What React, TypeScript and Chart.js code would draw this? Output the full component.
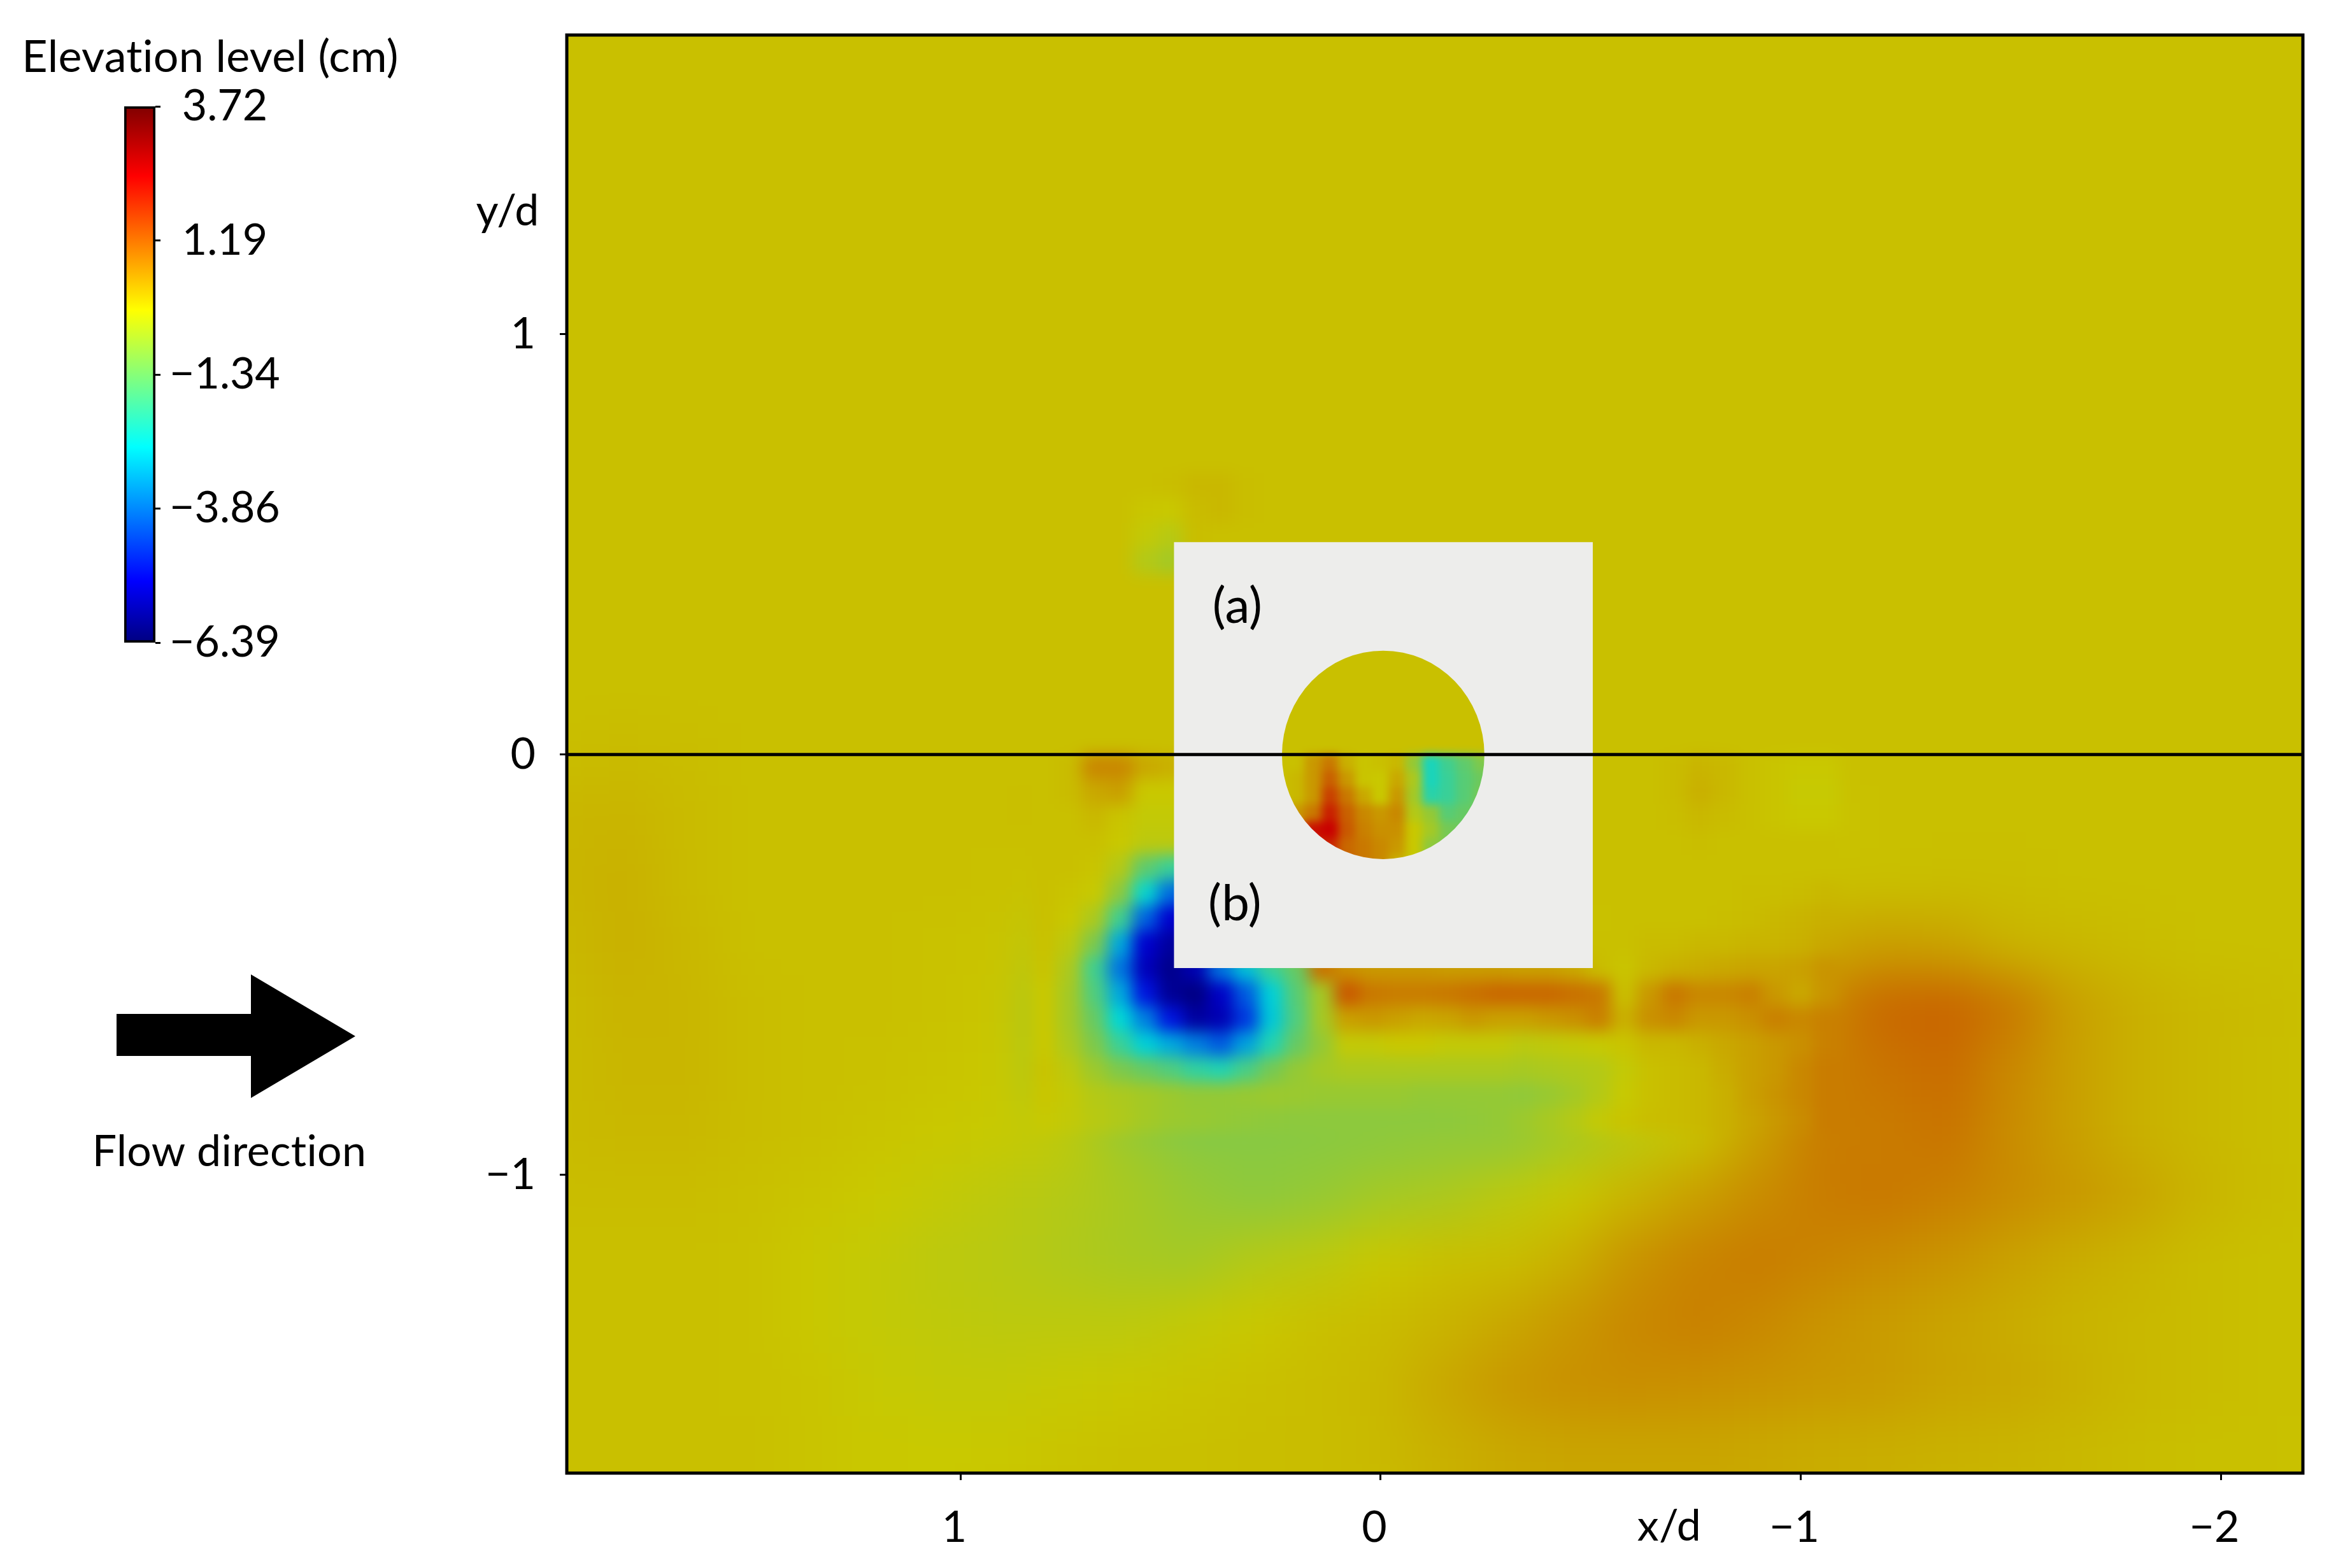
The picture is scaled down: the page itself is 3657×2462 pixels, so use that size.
import React, { useEffect, useRef } from "react";
import { Chart, registerables } from "chart.js";

Chart.register(...registerables);

const FONT = "Lato";
const FS = 68;

// ---- data ---------------------------------------------------------------
const xTicks = [1, 0, -1, -2];
const yTicks = [1, 0, -1];
const barTicks = [3.72, 1.19, -1.34, -3.86, -6.39];
const barRange = [-6.39, 3.72];
const insetSquare = { xHi: 0.492, xLo: -0.505, yHi: 0.505, yLo: -0.508 };
const insetCircle = { x: -0.006, y: -0.001, rx: 0.241, ry: 0.248 };

const coarseX = [1.95, 1.8, 1.65, 1.5, 1.35, 1.2, 1.05, 0.9, 0.75, 0.6, 0.45, 0.3, 0.15, 0, -0.15, -0.3, -0.45, -0.6, -0.75, -0.9, -1.05, -1.2, -1.35, -1.5, -1.65, -1.8, -1.95, -2.1, -2.25];
const coarseY = [1.8, 1.65, 1.5, 1.35, 1.2, 1.05, 0.9, 0.75, 0.6, 0.45, 0.3, 0.15, 0, -0.15, -0.3, -0.45, -0.6, -0.75, -0.9, -1.05, -1.2, -1.35, -1.5, -1.65, -1.8];
const coarseRows = [
  [0,0,0,0,0,0,0,0,0,0,0,0,0,0,0,0,0,0,0,0,0,0,0,0,0,0,0,0,0],
  [0,0,0,0,0,0,0,0,0,0,0,0,0,0,0,0,0,0,0,0,0,0,0,0,0,0,0,0,0],
  [0,0,0,0,0,0,0,0,0,0,0,0,0,0,0,0,0,0,0,0,0,0,0,0,0,0,0,0,0],
  [0,0,0,0,0,0,0,0,0,0,0,0,0,0,0,0,0,0,0,0,0,0,0,0,0,0,0,0,0],
  [0,0,0,0,0,0,0,0,0,0,0,0,0,0,0,0,0,0,0,0,0,0,0,0,0,0,0,0,0],
  [0,0,0,0,0,0,0,0,0,0,0,0,0,0,0,0,0,0,0,0,0,0,0,0,0,0,0,0,0],
  [0,0,0,0,0,0,0,0,0,0,0,0,0,0,0,0,0,0,0,0,0,0,0,0,0,0,0,0,0],
  [0,0,0,0,0,0,0,0,0,0,0,0,0,0,0,0,0,0,0,0,0,0,0,0,0,0,0,0,0],
  [0,0,0,0,0,0,0,0,0,0,0,0,0,0,0,0,0,0,0,0,0,0,0,0,0,0,0,0,0],
  [0,0,0,0,0,0,0,0,0,0,0,0,0,0,0,0,0,0,0,0,0,0,0,0,0,0,0,0,0],
  [0,0,0,0,0,0,0,0,0,0,0,0,0,0,0,0,0,0,0,0,0,0,0,0,0,0,0,0,0],
  [0,0,0,0,0,0,0,0,0,0,0,0,0,0,0,0,0,0,0,0,0,0,0,0,0,0,0,0,0],
  [0.03,0.06,0.03,0,0,0,0,0,0,0,0,0,0,0,0,0,0,0,0,0,0,0,0,0,0,0,0,0,0],
  [0.12,0.15,0.06,0,0,0,0,0,0.05,0.1,0,0,0,0,0,0,0,0,0.1,0,-0.05,0,0,0,0,0,0,0,0],
  [0.12,0.18,0.06,0,0,0,0,-0.02,-0.05,-0.3,-0.4,0,0,0,0,0,0,0,0.05,0,0,0,0.02,0.02,0,0,0,0,0],
  [0.1,0.18,0.1,0,0,0,-0.03,-0.05,-0.4,-3,-4.5,0,0,0,0,0,0,0.1,0.15,0.3,0.3,0.4,0.35,0.15,0.1,0.05,0,0,0],
  [0.06,0.15,0.12,0.03,0,0,-0.03,-0.08,-0.8,-4.2,-5.5,-3.3,-0.8,0.6,0.7,0.7,0.8,0.9,0.8,0.8,0.7,1.1,1.15,0.9,0.4,0.2,0.1,0.05,0],
  [0.06,0.12,0.12,0.03,0,-0.02,-0.05,-0.1,-0.7,-2.5,-2.9,-2,-1,-0.4,-0.2,-0.3,-0.2,-0.1,0,0.4,0.8,0.95,1.05,0.7,0.4,0.2,0.1,0.03,0],
  [0.06,0.1,0.1,0.03,0,-0.05,-0.1,-0.15,-0.25,-0.7,-0.95,-0.95,-0.95,-0.95,-0.9,-0.9,-0.6,-0.3,-0.05,0.4,0.85,0.85,0.95,0.65,0.4,0.2,0.1,0.03,0],
  [0.03,0.03,0.03,0,-0.05,-0.12,-0.2,-0.3,-0.4,-0.55,-0.75,-0.9,-0.8,-0.6,-0.5,-0.3,-0.1,0.15,0.4,0.65,0.85,0.9,0.8,0.65,0.5,0.35,0.15,0.05,0],
  [0,0,0,-0.02,-0.1,-0.2,-0.3,-0.35,-0.45,-0.55,-0.6,-0.4,-0.3,-0.1,0,0.02,0.2,0.55,0.75,0.85,0.75,0.65,0.55,0.38,0.25,0.15,0.05,0,0],
  [0,0,0,-0.02,-0.1,-0.2,-0.25,-0.3,-0.3,-0.3,-0.2,-0.1,0,0.05,0.15,0.3,0.5,0.7,0.8,0.7,0.55,0.45,0.35,0.25,0.15,0.1,0.05,0,0],
  [0,0,0,-0.02,-0.05,-0.15,-0.2,-0.2,-0.15,-0.1,-0.05,0,0.03,0.1,0.3,0.5,0.6,0.62,0.6,0.55,0.5,0.45,0.35,0.3,0.2,0.1,0.05,0,0],
  [0,0,0,0,-0.05,-0.1,-0.12,-0.1,-0.05,-0.02,0,0.02,0.04,0.08,0.2,0.3,0.35,0.35,0.35,0.3,0.25,0.22,0.18,0.15,0.1,0.05,0,0,-0.02],
  [0,0,0,0,-0.05,-0.1,-0.1,-0.08,-0.03,0,0,0.02,0.04,0.06,0.15,0.25,0.3,0.3,0.3,0.28,0.22,0.2,0.15,0.12,0.08,0.03,0,0,-0.02],
];

const fineX = [0.8, 0.74, 0.68, 0.62, 0.56, 0.5, 0.44, 0.38, 0.32, 0.26, 0.2, 0.14, 0.08, 0.02, -0.04, -0.1, -0.16, -0.22, -0.28, -0.34, -0.4, -0.46, -0.52, -0.58, -0.64, -0.7, -0.76, -0.82, -0.88, -0.94, -1, -1.06];
const fineY = [-0.03, -0.09, -0.15, -0.21, -0.27, -0.33, -0.39, -0.45, -0.51, -0.57, -0.63, -0.69, -0.75, -0.81, -0.87];
const fineRows = [
  [0,0.05,0.7,0.7,0.3,0.2,0.2,0,0,0,0,0,0,0,0,0,0,0,0,0,0,0,0,0,0,0.05,0.15,0.1,0,-0.05,-0.1,-0.1],
  [0,0.05,0.3,0.4,-0.1,-0.1,-0.1,0,0,0,0,0,0,0,0,0,0,0,0,0,0,0,0,0,0,0.05,0.2,0.1,0,-0.05,-0.15,-0.15],
  [0,0,0.1,-0.05,-0.2,-0.2,-0.2,0,0,0,0,0,0,0,0,0,0,0,0,0,0,0,0,0,0,0.02,0.1,0.05,0,-0.05,-0.1,-0.1],
  [0,0,0,-0.1,-0.3,-0.3,-0.3,0,0,0,0,0,0,0,0,0,0,0,0,0,0,0,0,0,0,0,0.02,0,0,0,0,0],
  [0,0,-0.05,-0.4,-1.5,-2,-2,0,0,0,0,0,0,0,0,0,0,0,0,0,0,0,0,0,0,0,0,0,0,0,0,0],
  [0,-0.05,-0.15,-0.9,-2.6,-4,-4.2,0,0,0,0,0,0,0,0,0,0,0,0,0,0,0,0,0,0,0,0,0,0.02,0.02,0.05,0.1],
  [0,-0.1,-0.5,-1.9,-4.1,-5.4,-5.6,0,0,0,0,0,0,0,0,0,0,0,0,0,0,0,-0.02,0,0,0,0,0.02,0.05,0.1,0.15,0.2],
  [-0.02,-0.3,-1.1,-3.3,-5.4,-5.9,-6.1,-6,0,0,0,0,0,0,0,0,0,0,0,0,0,0,0,0,0.05,0.05,0.1,0.1,0.15,0.15,0.2,0.3],
  [-0.05,-0.5,-1.9,-3.9,-5.6,-6.1,-5.7,-3.9,-3,-2,-1.4,1,0.6,0.5,0.5,0.5,0.45,0.45,0.45,0.4,0.4,0.3,0.05,-0.05,0.1,0.2,0.25,0.3,0.35,0.35,0.4,0.55],
  [-0.1,-0.6,-1.7,-3.3,-5,-6,-6.2,-5.5,-4.2,-2.8,-1.6,-0.6,1.3,0.9,0.85,0.85,0.9,1,1.1,1.1,1.1,1,0.9,0,0.5,0.9,0.7,0.7,0.8,0.5,0.3,0.55],
  [-0.1,-0.6,-1.4,-2.7,-3.8,-5,-5.9,-5.7,-4.6,-2.9,-1.7,-0.6,0.4,0.5,0.4,0.3,0.35,0.5,0.4,0.4,0.5,0.6,0.8,0.2,0.6,0.7,0.5,0.5,0.6,0.8,0.7,0.8],
  [-0.1,-0.5,-1.1,-2,-2.8,-3.3,-3.8,-4.2,-3.4,-2.3,-1.4,-0.8,-0.2,-0.2,-0.1,-0.1,-0.2,-0.2,-0.2,-0.3,-0.25,-0.2,-0.15,-0.05,0.1,0.1,0.2,0.3,0.4,0.5,0.6,0.8],
  [-0.05,-0.3,-0.7,-1.1,-1.4,-1.7,-2.1,-2.3,-1.8,-1.2,-0.8,-0.6,-0.5,-0.5,-0.5,-0.5,-0.5,-0.5,-0.5,-0.55,-0.5,-0.45,-0.4,-0.2,0,0.05,0.1,0.25,0.4,0.5,0.7,0.85],
  [-0.08,-0.2,-0.4,-0.5,-0.6,-0.7,-0.8,-0.8,-0.75,-0.7,-0.72,-0.75,-0.75,-0.75,-0.75,-0.8,-0.8,-0.8,-0.8,-0.85,-0.75,-0.6,-0.4,-0.15,0,0.05,0.1,0.2,0.4,0.55,0.7,0.85],
  [-0.15,-0.22,-0.35,-0.45,-0.6,-0.7,-0.75,-0.8,-0.85,-0.88,-0.9,-0.9,-0.9,-0.9,-0.9,-0.9,-0.88,-0.85,-0.8,-0.7,-0.55,-0.4,-0.2,-0.05,0.02,0.05,0.1,0.2,0.35,0.5,0.65,0.85],
];

const patchX = [0.62, 0.56, 0.5, 0.44, 0.38, 0.32];
const patchY = [0.64, 0.58, 0.52, 0.46];
const patchRows = [
  [0,0,0.02,0.1,0.1,0.02],
  [0,-0.08,-0.1,0.05,0.1,0.02],
  [0,-0.2,-0.35,0.02,0,0],
  [0,-0.4,-0.6,0,0,0],
];

const insetX = [0.28, 0.24, 0.2, 0.16, 0.12, 0.08, 0.04, 0, -0.04, -0.08, -0.12, -0.16, -0.2, -0.24, -0.28];
const insetY = [0.3, 0.26, 0.22, 0.18, 0.14, 0.1, 0.06, 0.02, -0.02, -0.06, -0.1, -0.14, -0.18, -0.22, -0.26, -0.3];
const insetRows = [
  [0,0,0,0,0,0,0,0,0,0,0,0,0,0,0],
  [0,0,0,0,0,0,0,0,0,0,0,0,0,0,0],
  [0,0,0,0,0,0,0,0,0,0,0,0,0,0,0],
  [0,0,0,0,0,0,0,0,0,0,0,0,0,0,0],
  [0,0,0,0,0,0,0,0,0,0,0,0,0,0,0],
  [0,0,0,0,0,0,0,0,0,0,0,0,0,0,0],
  [0,0,0,0,0,0,0,0,0,0,0,0,0,0,0],
  [0,0,0,0,0,0,0,0,0,0,0,0,0,0,0],
  [0,0,0,0.5,0.9,0.2,-0.05,0,0.1,-0.8,-2.4,-1.9,-1.5,-1.1,-1],
  [0,0,0.1,0.5,1.2,0.5,-0.05,-0.1,0.3,-0.5,-2.4,-2,-1.6,-1.3,-1.1],
  [0,0,0.1,0.5,1.6,0.9,0.3,-0.1,0.5,-0.6,-2.2,-2,-1.6,-1.2,-1.1],
  [0.3,0.3,0.5,0.9,2,1.2,0.7,0.5,0.7,-0.4,-0.8,-1.6,-1.4,-1.2,-1.2],
  [0.9,0.9,0.9,2.2,2.4,1.3,0.8,0.6,0.6,-0.1,-0.6,-1.2,-1.3,-1.3,-1.3],
  [1.5,1.5,1.5,2,1.9,1.1,0.9,0.7,0.5,-0.1,-0.9,-1.1,-1.2,-1.2,-1.2],
  [1.5,1.5,1.5,1.5,1.5,1.2,0.9,0.7,0.2,-0.2,-0.9,-1.1,-1.1,-1.1,-1.1],
  [1.5,1.5,1.5,1.5,1.5,1.2,0.9,0.7,0.2,-0.2,-0.9,-1.1,-1.1,-1.1,-1.1],
];

// ---- colours ---------------------------------------------------------------
const jetStops: [number, number, number, number][] = [
  [0, 0, 0, 0.5],
  [0.115, 0, 0, 1],
  [0.365, 0, 1, 1],
  [0.62, 1, 1, 0],
  [0.87, 1, 0, 0],
  [1, 0.5, 0, 0],
];
function jet(t: number) {
  for (let i = 1; i < jetStops.length; i++) {
    if (t <= jetStops[i][0]) {
      const a = jetStops[i - 1];
      const b = jetStops[i];
      const f = (t - a[0]) / (b[0] - a[0]);
      return [a[1] + (b[1] - a[1]) * f, a[2] + (b[2] - a[2]) * f, a[3] + (b[3] - a[3]) * f];
    }
  }
  return [0.5, 0, 0];
}
function litColor(v: number) {
  const t = Math.max(0, Math.min(1, (v + 6.39) / 10.11));
  const c = jet(t);
  const shade = Math.min(0.88, 0.79 + Math.max(0, 0.5 - t) * 0.4);
  return `rgb(${Math.round(c[0] * 255 * shade)},${Math.round(c[1] * 255 * shade)},${Math.round(c[2] * 255 * shade)})`;
}
function cells(xs: number[], ys: number[], rows: number[][]) {
  const pts: { x: number; y: number }[] = [];
  const colors: string[] = [];
  rows.forEach((row, j) =>
    row.forEach((v, i) => {
      pts.push({ x: xs[i], y: ys[j] });
      colors.push(litColor(v));
    })
  );
  return { pts, colors };
}

const minusLabel = (v: number | string) => String(v).replace("-", "\u2212");

function blurAll(chart: any, px: number, clipPath?: (c: CanvasRenderingContext2D) => void) {
  const canvas = chart.canvas as HTMLCanvasElement;
  const tmp = document.createElement("canvas");
  tmp.width = canvas.width;
  tmp.height = canvas.height;
  tmp.getContext("2d")!.drawImage(canvas, 0, 0);
  const c = chart.ctx;
  c.save();
  c.setTransform(1, 0, 0, 1, 0, 0);
  if (clipPath) {
    c.beginPath();
    clipPath(c);
    c.clip();
  }
  c.filter = `blur(${px}px)`;
  c.drawImage(tmp, 0, 0);
  c.restore();
}

function insetGeometry(chart: any) {
  const sx = chart.scales.x;
  const sy = chart.scales.y;
  const l = sx.getPixelForValue(insetSquare.xHi);
  const r = sx.getPixelForValue(insetSquare.xLo);
  const t = sy.getPixelForValue(insetSquare.yHi);
  const b = sy.getPixelForValue(insetSquare.yLo);
  const cx = sx.getPixelForValue(insetCircle.x);
  const cy = sy.getPixelForValue(insetCircle.y);
  const rx = (insetCircle.rx * (r - l)) / (insetSquare.xHi - insetSquare.xLo);
  const ry = (insetCircle.ry * (b - t)) / (insetSquare.yHi - insetSquare.yLo);
  return { l, r, t, b, cx, cy, rx, ry };
}

const layerPlugin = {
  id: "layers",
  afterDatasetDraw(chart: any, args: any) {
    const c = chart.ctx;
    const a = chart.chartArea;
    if (args.index === 0) blurAll(chart, 38);
    if (args.index === 2) {
      blurAll(chart, 12);
      c.clearRect(0, 0, chart.width, a.top);
      c.clearRect(0, a.bottom, chart.width, chart.height - a.bottom);
      c.clearRect(0, 0, a.left, chart.height);
      c.clearRect(a.right, 0, chart.width - a.right, chart.height);
    }
    if (args.index === 3) {
      const g = insetGeometry(chart);
      blurAll(chart, 7, (p) => p.ellipse(g.cx, g.cy, g.rx, g.ry, 0, 0, Math.PI * 2));
      // the inset sheet, with the round window cut out of it
      c.save();
      c.fillStyle = "#EDEDEB";
      c.beginPath();
      c.rect(g.l, g.t, g.r - g.l, g.b - g.t);
      c.ellipse(g.cx, g.cy, g.rx, g.ry, 0, 0, Math.PI * 2);
      c.fill("evenodd");
      c.restore();
    }
  },
  afterDraw(chart: any) {
    const c = chart.ctx;
    const a = chart.chartArea;
    c.save();
    c.strokeStyle = "#000";
    c.lineWidth = 5;
    c.strokeRect(a.left - 1, a.top - 1, a.right - a.left + 2, a.bottom - a.top + 2);
    // flow arrow
    c.fillStyle = "#000";
    c.beginPath();
    c.moveTo(183, 1592);
    c.lineTo(394, 1592);
    c.lineTo(394, 1530);
    c.lineTo(558, 1627);
    c.lineTo(394, 1724);
    c.lineTo(394, 1658);
    c.lineTo(183, 1658);
    c.closePath();
    c.fill();
    c.textBaseline = "middle";
    c.textAlign = "center";
    c.fillStyle = "#000";
    c.letterSpacing = "0.3px";
    c.font = `70px ${FONT}`;
    c.fillText("Elevation level (cm)", 330, 90);
    c.font = `68px ${FONT}`;
    c.fillText("Flow direction", 360, 1809);
    c.font = `${FS}px ${FONT}`;
    c.fillText("y/d", 797, 332);
    c.fillText("x/d", 2621, 2397);
    c.font = `78px ${FONT}`;
    c.fillText("(a)", 1943, 953);
    c.fillText("(b)", 1939, 1420);
    c.restore();
  },
};

export default function App() {
  const mainRef = useRef<HTMLCanvasElement>(null);
  const barRef = useRef<HTMLCanvasElement>(null);

  useEffect(() => {
    const coarse = cells(coarseX, coarseY, coarseRows);
    const fine = cells(fineX, fineY, fineRows);
    const patch = cells(patchX, patchY, patchRows);
    const inset = cells(insetX, insetY, insetRows);
    const cellDs = (d: { pts: any[]; colors: string[] }, step: number, order: number) => ({
      type: "scatter",
      data: d.pts,
      order,
      clip: false,
      pointStyle: "rect",
      pointBackgroundColor: d.colors,
      pointBorderWidth: 0,
      pointRadius: (step * 660) / Math.SQRT2 + 1,
      pointHoverRadius: (step * 660) / Math.SQRT2 + 1,
      showLine: false,
    });
    const main = new Chart(mainRef.current!, {
      type: "scatter",
      data: {
        datasets: [
          cellDs(coarse, 0.15, 5),
          cellDs(fine, 0.06, 4),
          cellDs(patch, 0.06, 3),
          cellDs(inset, 0.04, 2),
          {
            type: "line",
            data: [
              { x: 1.936, y: 0 },
              { x: -2.194, y: 0 },
            ],
            order: 1,
            borderColor: "#000",
            borderWidth: 5,
            pointRadius: 0,
            showLine: true,
          },
        ] as any,
      },
      options: {
        animation: false,
        responsive: false,
        devicePixelRatio: 1,
        layout: { autoPadding: false, padding: { left: 0, right: 42, top: 56, bottom: 0 } },
        plugins: { legend: { display: false }, tooltip: { enabled: false }, title: { display: false } },
        scales: {
          x: {
            type: "linear",
            reverse: true,
            min: -2.194,
            max: 1.936,
            afterBuildTicks: (s: any) => {
              s.ticks = xTicks.map((value) => ({ value }));
            },
            afterFit: (s: any) => {
              s.height = 150;
              s.paddingLeft = 0;
              s.paddingRight = 0;
            },
            grid: { drawOnChartArea: false, tickLength: 12, tickWidth: 3, tickColor: "#000", z: 1 },
            border: { display: false },
            ticks: {
              z: 1,
              color: "#000",
              padding: 34,
              labelOffset: -10,
              maxRotation: 0,
              autoSkip: false,
              font: { family: FONT, size: FS },
              callback: (v: any) => minusLabel(v),
            },
          },
          y: {
            type: "linear",
            min: -1.708,
            max: 1.71,
            afterBuildTicks: (s: any) => {
              s.ticks = yTicks.map((value) => ({ value }));
            },
            afterFit: (s: any) => {
              s.width = 891;
              s.paddingTop = 0;
              s.paddingBottom = 0;
            },
            grid: { drawOnChartArea: false, tickLength: 12, tickWidth: 3, tickColor: "#000", z: 1 },
            border: { display: false },
            ticks: {
              z: 1,
              color: "#000",
              padding: 38,
              autoSkip: false,
              font: { family: FONT, size: FS },
              callback: (v: any) => minusLabel(v),
            },
          },
        },
      } as any,
      plugins: [layerPlugin as any],
    });

    const bar = new Chart(barRef.current!, {
      type: "bar",
      data: {
        labels: ["Elevation level (cm)"],
        datasets: [
          {
            data: [barRange as any],
            barPercentage: 1,
            categoryPercentage: 1,
            borderSkipped: false,
            borderColor: "#000",
            borderWidth: 4,
            backgroundColor: (ctx: any) => {
              const a = ctx.chart.chartArea;
              if (!a) return "#000";
              const g = ctx.chart.ctx.createLinearGradient(0, a.bottom, 0, a.top);
              jetStops.forEach((s) => g.addColorStop(s[0], `rgb(${s[1] * 255},${s[2] * 255},${s[3] * 255})`));
              return g;
            },
          },
        ],
      },
      options: {
        animation: false,
        responsive: false,
        devicePixelRatio: 1,
        layout: { autoPadding: false, padding: { left: 195, right: 0, top: 167, bottom: 91 } },
        plugins: { legend: { display: false }, tooltip: { enabled: false } },
        scales: {
          x: { display: false },
          y: {
            position: "right",
            min: barRange[0],
            max: barRange[1],
            afterBuildTicks: (s: any) => {
              s.ticks = barTicks.map((value) => ({ value }));
            },
            afterFit: (s: any) => {
              s.width = 456;
            },
            grid: { drawOnChartArea: false, tickLength: 8, tickWidth: 3, tickColor: "#000" },
            border: { display: false },
            ticks: {
              color: "#000",
              padding: 14,
              crossAlign: "center",
              autoSkip: false,
              font: { family: FONT, size: FS },
              callback: (v: any) => minusLabel(v),
            },
          },
        },
      } as any,
    });
    return () => {
      main.destroy();
      bar.destroy();
    };
  }, []);

  return (
    <div style={{ position: "absolute", left: 0, top: 0, width: 3657, height: 2462, background: "#fff" }}>
      <canvas ref={mainRef} width={3657} height={2462} style={{ position: "absolute", left: 0, top: 0 }} />
      <canvas ref={barRef} width={700} height={1100} style={{ position: "absolute", left: 0, top: 0 }} />
    </div>
  );
}
